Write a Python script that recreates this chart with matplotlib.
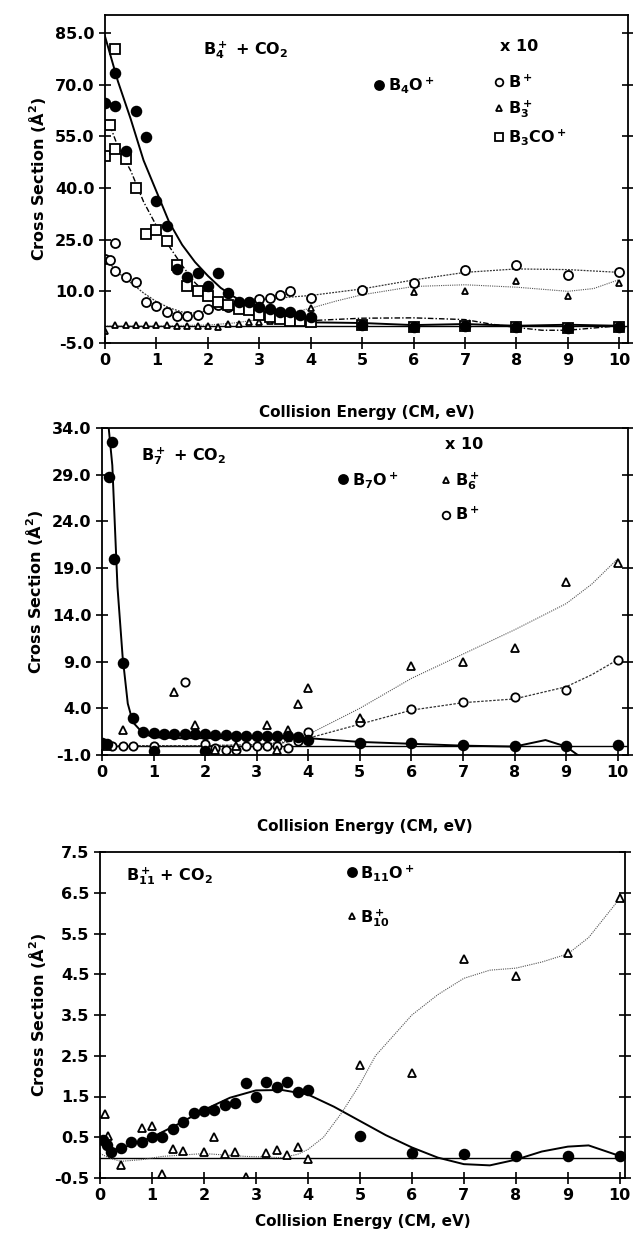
import numpy as np
import matplotlib.pyplot as plt
from matplotlib.lines import Line2D
from matplotlib.ticker import FormatStrFormatter

plt.rcParams['font.family'] = ['DejaVu Sans']
plt.rcParams['mathtext.fontset'] = 'dejavusans'
plt.rcParams['mathtext.default'] = 'bf'

# ---- panel 1: B4+ + CO2 ----
p1_b4o_x = [0.0, 0.2, 0.2, 0.4, 0.6, 0.8, 1.0, 1.2, 1.4, 1.6, 1.8, 2.0, 2.2, 2.4, 2.6, 2.8, 3.0, 3.2, 3.4, 3.6, 3.8, 4.0, 5, 6, 7, 8, 9, 10]
p1_b4o_y = [64.8, 73.3, 63.8, 50.6, 62.2, 54.7, 36.3, 29.0, 16.5, 14.3, 15.3, 11.4, 15.3, 9.5, 7.0, 7.0, 5.5, 5.0, 4.0, 4.0, 3.0, 2.5, 0.3, -0.3, 0.0, -0.3, -0.6, -0.3]
p1_b4o_fit_x = [0, 0.25, 0.5, 0.75, 1.0, 1.25, 1.5, 1.75, 2.0, 2.25, 2.5, 2.75, 3.0, 3.25, 3.5, 3.75, 4.0, 5, 6, 7, 8, 9, 10]
p1_b4o_fit_y = [84, 71, 60, 48, 39, 30, 23.5, 18.5, 14.5, 11, 8.5, 6.3, 4.5, 3.2, 2.2, 1.5, 1.0, 0.8, 0.2, 0.5, 0.0, 0.3, 0.0]

p1_b3co_x = [0.0, 0.1, 0.2, 0.2, 0.4, 0.6, 0.8, 1.0, 1.2, 1.4, 1.6, 1.8, 2.0, 2.2, 2.4, 2.6, 2.8, 3.0, 3.2, 3.4, 3.6, 3.8, 4.0, 5, 6, 7, 8, 9, 10]
p1_b3co_y = [49.3, 58.3, 80.3, 51.3, 48.4, 40.0, 26.6, 27.9, 24.5, 17.7, 11.4, 10.0, 8.7, 7.0, 6.0, 5.0, 4.5, 3.0, 2.5, 2.0, 1.5, 1.5, 1.0, 0.3, -0.3, 0.0, -0.3, -0.6, -0.3]
p1_b3co_fit_x = [0.1, 0.25, 0.5, 0.75, 1.0, 1.25, 1.5, 1.75, 2.0, 2.25, 2.5, 3.0, 3.5, 4.0, 5, 6, 7, 7.5, 8, 8.5, 9, 10]
p1_b3co_fit_y = [58, 52, 45, 36, 29, 23, 17.5, 12.5, 9, 6.5, 4.5, 2.5, 1.5, 1.5, 2.2, 2.3, 1.8, 0.5, -0.5, -1.3, -1.3, 0.0]

p1_bp_x = [0.0, 0.1, 0.2, 0.2, 0.4, 0.6, 0.8, 1.0, 1.2, 1.4, 1.6, 1.8, 2.0, 2.2, 2.4, 2.6, 2.8, 3.0, 3.2, 3.4, 3.6, 4.0, 5, 6, 7, 8, 9, 10]
p1_bp_y = [19.5, 19.0, 24.0, 16.0, 14.3, 12.6, 7.0, 5.6, 4.1, 2.9, 2.7, 3.2, 5.0, 6.0, 5.5, 6.5, 7.0, 7.7, 8.0, 9.0, 10.0, 8.0, 10.4, 12.5, 16.2, 17.7, 14.8, 15.5]
p1_bp_fit_x = [0, 0.25, 0.5, 0.75, 1.0, 1.25, 1.5, 1.75, 2.0, 2.5, 3.0, 3.5, 4.0, 5, 6, 7, 8, 9, 10]
p1_bp_fit_y = [19.5, 15.5, 12.5, 9.5, 7.0, 5.2, 4.0, 3.7, 4.4, 6.0, 7.5, 8.2, 8.8, 10.7, 13.3, 15.5, 16.5, 16.3, 15.5]

p1_b3_x = [0.0, 0.2, 0.4, 0.6, 0.8, 1.0, 1.2, 1.4, 1.6, 1.8, 2.0, 2.2, 2.4, 2.6, 2.8, 3.0, 3.2, 3.4, 3.6, 3.8, 4.0, 5, 6, 7, 8, 9, 10]
p1_b3_y = [-1.5, 0.3, 0.3, 0.2, 0.2, 0.1, 0.1, 0.0, 0.0, 0.0, 0.0, -0.5, 0.5, 0.5, 1.0, 1.0, 1.5, 2.0, 2.5, 3.0, 5.1, 10.0, 9.7, 10.0, 13.1, 8.5, 12.4]
p1_b3_fit_x = [0, 1, 2, 2.5, 3, 3.5, 4, 4.5, 5, 6, 7, 8, 9, 9.5, 10]
p1_b3_fit_y = [0.0, 0.0, 0.2, 0.8, 1.8, 3.3, 5.1, 7.2, 9.0, 11.4, 11.9, 11.2, 10.0, 10.8, 13.4]

# ---- panel 2: B7+ + CO2 ----
p2_b7o_x = [0.0, 0.1, 0.14, 0.2, 0.23, 0.4, 0.6, 0.8, 1.0, 1.0, 1.2, 1.4, 1.6, 1.8, 2.0, 2.0, 2.2, 2.4, 2.6, 2.8, 3.0, 3.2, 3.4, 3.6, 3.8, 4.0, 5, 6, 7, 8, 9, 10]
p2_b7o_y = [0.3, 0.2, 28.8, 32.5, 20.0, 8.8, 3.0, 1.5, 1.4, -0.6, 1.3, 1.3, 1.2, 1.2, 1.2, -0.6, 1.1, 1.1, 1.0, 1.0, 1.0, 1.0, 1.0, 1.0, 0.9, 0.6, 0.3, 0.3, 0.1, 0.0, 0.0, 0.1]
p2_b7o_fit_x = [0.13, 0.2, 0.3, 0.4, 0.5, 0.6, 0.8, 1.0, 1.5, 2, 3, 4, 5, 6, 7, 8, 8.6, 9.0, 9.3, 9.7, 10]
p2_b7o_fit_y = [34, 30, 17, 9.5, 4.5, 2.5, 1.3, 0.9, 0.8, 0.8, 0.8, 0.8, 0.4, 0.2, 0.0, -0.1, 0.6, -0.1, -1.3, -1.8, -1.5]

p2_b6_x = [0.1, 0.4, 1.4, 1.8, 2.2, 2.6, 3.2, 3.4, 3.6, 3.8, 4.0, 5, 6, 7, 8, 9, 10]
p2_b6_y = [0.0, 1.7, 5.7, 2.2, -0.5, 0.0, 2.2, -0.5, 1.7, 4.5, 6.2, 3.0, 8.5, 9.0, 10.4, 17.5, 19.6]
p2_b6_fit_x = [0, 1, 2, 3, 3.5, 4, 5, 6, 7, 8, 9, 9.5, 10]
p2_b6_fit_y = [0, 0, 0, 0.1, 0.4, 1.2, 4.0, 7.2, 9.8, 12.4, 15.2, 17.3, 20.0]

p2_bp_x = [0.2, 0.4, 0.6, 1.0, 1.6, 2.0, 2.2, 2.4, 2.6, 2.8, 3.0, 3.2, 3.4, 3.6, 3.8, 4.0, 5, 6, 7, 8, 9, 10]
p2_bp_y = [0.0, 0.0, 0.0, 0.0, 6.8, 0.2, -0.3, -0.5, -0.5, 0.0, 0.0, 0.0, 0.0, -0.3, 0.5, 1.5, 2.5, 3.9, 4.7, 5.2, 6.0, 9.2]
p2_bp_fit_x = [0, 1, 2, 3, 3.5, 4, 5, 6, 7, 8, 9, 9.5, 10]
p2_bp_fit_y = [0, 0, 0, 0.1, 0.3, 0.8, 2.3, 3.8, 4.6, 5.0, 6.3, 7.6, 9.2]

# ---- panel 3: B11+ + CO2 ----
p3_b11o_x = [0.06, 0.13, 0.22, 0.4, 0.6, 0.8, 1.0, 1.2, 1.4, 1.6, 1.8, 2.0, 2.2, 2.4, 2.6, 2.8, 3.0, 3.2, 3.4, 3.6, 3.8, 4.0, 5, 6, 7, 8, 9, 10]
p3_b11o_y = [0.43, 0.31, 0.15, 0.23, 0.39, 0.39, 0.51, 0.51, 0.70, 0.88, 1.10, 1.15, 1.18, 1.30, 1.35, 1.84, 1.48, 1.86, 1.74, 1.86, 1.60, 1.66, 0.53, 0.11, 0.08, 0.03, 0.03, 0.04]
p3_b11o_fit_x = [0, 0.25, 0.5, 1.0, 1.5, 2.0, 2.5, 3.0, 3.5, 4.0, 4.5, 5.0, 5.5, 6.0, 6.5, 7.0, 7.5, 8.0, 8.5, 9.0, 9.4, 10]
p3_b11o_fit_y = [0.47, 0.19, 0.27, 0.5, 0.82, 1.17, 1.47, 1.65, 1.66, 1.55, 1.25, 0.9, 0.55, 0.25, 0.0, -0.16, -0.19, -0.05, 0.15, 0.27, 0.3, 0.04]

p3_b10_x = [0.1, 0.15, 0.4, 0.8, 1.0, 1.2, 1.4, 1.6, 2.0, 2.2, 2.4, 2.6, 2.8, 3.2, 3.4, 3.6, 3.8, 4.0, 5, 6, 7, 8, 9, 10]
p3_b10_y = [1.08, 0.52, -0.17, 0.72, 0.78, -0.39, 0.22, 0.17, 0.15, 0.50, 0.10, 0.14, -0.48, 0.12, 0.19, 0.07, 0.26, -0.04, 2.27, 2.08, 4.87, 4.46, 5.03, 6.36]
p3_b10_fit_x = [0, 0.2, 0.4, 0.8, 1.2, 2.0, 2.8, 3.5, 3.8, 4.0, 4.3, 4.65, 5.0, 5.3, 6.0, 6.5, 7.0, 7.5, 8.0, 8.5, 9.0, 9.4, 10]
p3_b10_fit_y = [0.1, -0.02, -0.09, -0.05, 0.03, 0.1, 0.03, 0.0, 0.08, 0.2, 0.5, 1.1, 1.8, 2.5, 3.5, 4.0, 4.4, 4.6, 4.65, 4.8, 5.0, 5.4, 6.36]

xticks = list(range(11))
p1_yticks = [-5, 10, 25, 40, 55, 70, 85]
p2_yticks = [-1, 4, 9, 14, 19, 24, 29, 34]
p3_yticks = [-0.5, 0.5, 1.5, 2.5, 3.5, 4.5, 5.5, 6.5, 7.5]

W, H = 633, 1256
fig = plt.figure(figsize=(W / 100, H / 100), dpi=100)


def make_axes(left, top, right, bottom):
    return fig.add_axes([left / W, 1 - bottom / H, (right - left) / W, (bottom - top) / H])


def style(ax, ylim, yticks, xlabel_y, xmax):
    ax.set_xlim(0, xmax)
    ax.set_ylim(*ylim)
    ax.set_xticks(xticks)
    ax.set_yticks(yticks)
    ax.yaxis.set_major_formatter(FormatStrFormatter('%.1f'))
    ax.tick_params(direction='inout', length=9, width=1.2, labelsize=11.5,
                   right=True, top=False, pad=3)
    for lab in ax.get_xticklabels() + ax.get_yticklabels():
        lab.set_fontweight('bold')
    for sp in ax.spines.values():
        sp.set_linewidth(1.3)
    ax.axhline(0, color='black', lw=1.0, zorder=1)
    ax.set_xlabel('Collision Energy (CM, eV)', fontsize=11, fontweight='bold')
    ax.xaxis.set_label_coords(0.5, xlabel_y)
    ax.set_ylabel('Cross Section (Å$^2$)', fontsize=11.5, fontweight='bold', labelpad=5)


def mk(marker, filled, ms):
    return dict(marker=marker, linestyle='none', color='black', markersize=ms,
                markerfacecolor='black' if filled else 'white', markeredgewidth=1.3)


def handle(marker, filled, ms):
    return Line2D([], [], **mk(marker, filled, ms))


leg_kw = dict(frameon=False, handlelength=0.6, handletextpad=0.25, borderaxespad=0,
              borderpad=0, prop={'size': 11.5, 'weight': 'bold'})
txt_kw = dict(fontsize=11.5, fontweight='bold', va='center')

# ---------------- panel 1 ----------------
ax1 = make_axes(105, 15, 628, 343)
ax1.plot(p1_b4o_fit_x, p1_b4o_fit_y, color='black', lw=1.4)
ax1.plot(p1_b3co_fit_x, p1_b3co_fit_y, color='black', lw=1.0, linestyle=(0, (4, 1.5, 1, 1.5)))
ax1.plot(p1_bp_fit_x, p1_bp_fit_y, color='#333333', lw=0.9, linestyle=(0, (1.5, 1)))
ax1.plot(p1_b3_fit_x, p1_b3_fit_y, color='#555555', lw=0.8, linestyle=(0, (1, 1)))
ax1.plot(p1_b3_x, p1_b3_y, **mk('^', False, 5))
ax1.plot(p1_bp_x, p1_bp_y, **mk('o', False, 6.5))
ax1.plot(p1_b3co_x, p1_b3co_y, **mk('s', False, 6.5))
ax1.plot(p1_b4o_x, p1_b4o_y, **mk('o', True, 7))
style(ax1, (-5, 90.2), p1_yticks, -0.19, 10.17)
ax1.text(1.9, 80, 'B$_4^+$ + CO$_2$', **txt_kw)
ax1.text(7.68, 81.0, 'x 10', **txt_kw)
l1 = ax1.legend([handle('o', True, 6.5)], ['B$_4$O$^+$'], loc='upper left',
                bbox_to_anchor=(0.515, 0.817), **leg_kw)
ax1.add_artist(l1)
ax1.legend([handle('o', False, 5.5), handle('^', False, 5), handle('s', False, 5.5)],
           ['B$^+$', 'B$_3^+$', 'B$_3$CO$^+$'], loc='upper left',
           bbox_to_anchor=(0.745, 0.822), labelspacing=0.45, **leg_kw)

# ---------------- panel 2 ----------------
ax2 = make_axes(102, 428, 628, 755)
ax2.plot(p2_b7o_fit_x, p2_b7o_fit_y, color='black', lw=1.4)
ax2.plot(p2_b6_fit_x, p2_b6_fit_y, color='#555555', lw=0.8, linestyle=(0, (1, 1)))
ax2.plot(p2_bp_fit_x, p2_bp_fit_y, color='#333333', lw=0.9, linestyle=(0, (2, 1.2)))
ax2.plot(p2_bp_x, p2_bp_y, **mk('o', False, 6))
ax2.plot(p2_b6_x, p2_b6_y, **mk('^', False, 5.5))
ax2.plot(p2_b7o_x, p2_b7o_y, **mk('o', True, 7))
style(ax2, (-1, 34), p2_yticks, -0.195, 10.2)
ax2.text(0.75, 31, 'B$_7^+$ + CO$_2$', **txt_kw)
ax2.text(6.65, 32.2, 'x 10', **txt_kw)
l2 = ax2.legend([handle('o', True, 6.5)], ['B$_7$O$^+$'], loc='upper left',
                bbox_to_anchor=(0.45, 0.873), **leg_kw)
ax2.add_artist(l2)
ax2.legend([handle('^', False, 5), handle('o', False, 5.5)],
           ['B$_6^+$', 'B$^+$'], loc='upper left',
           bbox_to_anchor=(0.645, 0.87), labelspacing=0.85, **leg_kw)

# ---------------- panel 3 ----------------
ax3 = make_axes(100, 852, 625, 1178)
ax3.plot(p3_b11o_fit_x, p3_b11o_fit_y, color='black', lw=1.4)
ax3.plot(p3_b10_fit_x, p3_b10_fit_y, color='#555555', lw=0.8, linestyle=(0, (1, 1)))
ax3.plot(p3_b10_x, p3_b10_y, **mk('^', False, 5.5))
ax3.plot(p3_b11o_x, p3_b11o_y, **mk('o', True, 7))
style(ax3, (-0.5, 7.5), p3_yticks, -0.11, 10.1)
ax3.text(0.5, 6.9, 'B$_{11}^+$ + CO$_2$', **txt_kw)
ax3.legend([handle('o', True, 6.5), handle('^', False, 5)],
           ['B$_{11}$O$^+$', 'B$_{10}^+$'], loc='upper left',
           bbox_to_anchor=(0.47, 0.967), labelspacing=1.5, **leg_kw)

fig.savefig('out.png', dpi=100)
